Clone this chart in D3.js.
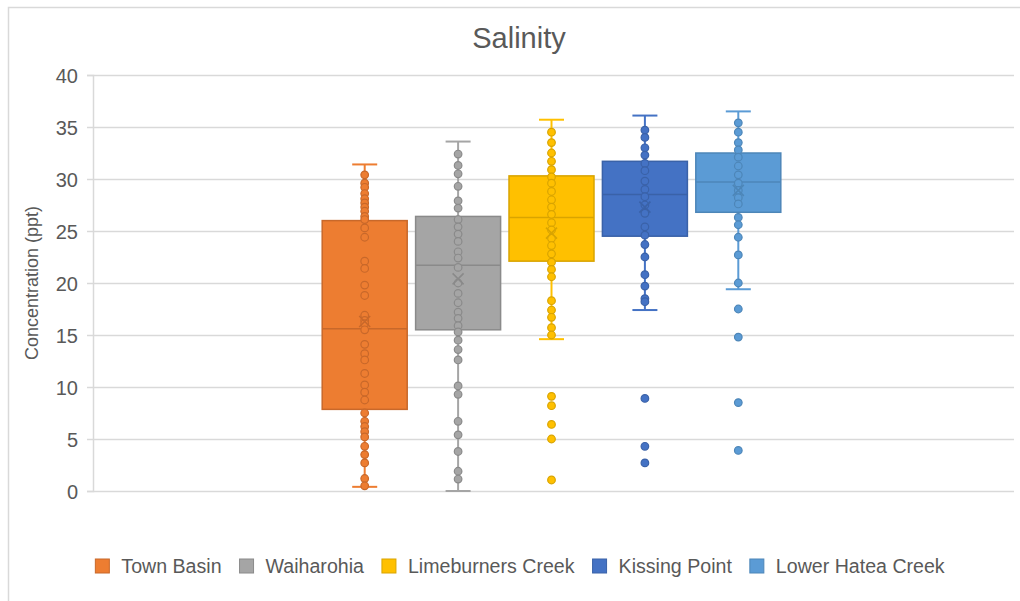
<!DOCTYPE html>
<html>
<head>
<meta charset="utf-8">
<script src="https://cdn.jsdelivr.net/npm/d3@7"></script>
<style>
  html, body { margin: 0; padding: 0; background: #fff; }
  svg { display: block; font-family: "Liberation Sans", Arial, sans-serif; }
</style>
</head>
<body>
<svg id="chart" width="1020" height="601"></svg>
<script>
// ---- data ----
const series = ["Town Basin", "Waiharohia", "Limeburners Creek", "Kissing Point", "Lower Hatea Creek"];
const fillColors = ["#ED7D31", "#A5A5A5", "#FFC000", "#4472C4", "#5B9BD5"];
const strokeColors = ["#C8682A", "#8A8A8A", "#D9A400", "#3A62A8", "#4D86B8"];
const whiskerLow = [0.4, 0.0, 14.6, 17.4, 19.4];
const q1 = [7.85, 15.5, 22.1, 24.5, 26.8];
const median = [15.6, 21.7, 26.3, 28.5, 29.7];
const q3 = [26.0, 26.4, 30.3, 31.7, 32.5];
const whiskerHigh = [31.4, 33.6, 35.7, 36.1, 36.5];
const means = [16.3, 20.4, 24.8, 27.3, 28.9];
const pointsTownBasin = [30.4, 29.6, 29.2, 28.6, 28.1, 27.7, 27.3, 26.9, 26.4, 26.1, 25.3, 24.4, 22.1, 21.4, 19.8, 18.8, 16.9, 16.4, 16.1, 15.5, 14.1, 13.2, 12.6, 11.3, 10.2, 9.5, 8.75, 7.5, 6.7, 6.2, 5.7, 5.2, 4.3, 3.5, 2.7, 1.2, 0.5];
const pointsWaiharohia = [32.4, 31.3, 30.5, 29.3, 27.9, 27.2, 26.1, 25.4, 24.7, 24.0, 23.0, 22.4, 21.5, 20.0, 19.0, 18.1, 17.2, 16.6, 15.9, 15.3, 14.5, 13.6, 12.6, 10.1, 9.3, 6.7, 5.4, 3.8, 1.9, 1.15];
const pointsLimeburners = [34.5, 33.5, 32.5, 31.7, 30.9, 30.2, 29.6, 28.8, 28.0, 27.3, 26.6, 25.8, 25.1, 24.3, 23.6, 22.8, 22.0, 21.3, 20.6, 18.3, 17.4, 16.7, 15.7, 15.0, 9.1, 8.2, 6.4, 5.0, 1.06];
const pointsKissingPoint = [34.7, 34.0, 33.0, 32.3, 31.5, 30.8, 29.8, 29.0, 28.3, 27.5, 26.7, 25.4, 24.6, 23.7, 22.5, 20.8, 19.7, 18.5, 18.2, 8.9, 4.3, 2.7];
const pointsLowerHatea = [35.4, 34.5, 33.5, 32.8, 32.1, 31.25, 30.4, 29.6, 28.9, 28.2, 27.6, 26.3, 25.6, 24.4, 22.7, 20.0, 17.5, 14.8, 8.5, 3.9];
const pointSets = [pointsTownBasin, pointsWaiharohia, pointsLimeburners, pointsKissingPoint, pointsLowerHatea];
const yTicks = [0, 5, 10, 15, 20, 25, 30, 35, 40];
const titleText = "Salinity";
const yAxisTitle = "Concentration (ppt)";

// ---- layout ----
const svg = d3.select("#chart");
const plot = { left: 93, right: 1014, top: 75, bottom: 491 };
const textColor = "#595959";
const gridColor = "#D9D9D9";

svg.append("rect").attr("width", 1020).attr("height", 601).attr("fill", "#fff");
// chart border (extends beyond the visible window on right/bottom)
svg.append("rect").attr("x", 8.5).attr("y", 7.5).attr("width", 1040).attr("height", 640)
  .attr("fill", "none").attr("stroke", gridColor).attr("stroke-width", 1.5);

const y = d3.scaleLinear().domain([0, 40]).range([plot.bottom, plot.top]);
const x = d3.scaleBand().domain(series).range([318, 785]).paddingInner(0.09).paddingOuter(0.045);

// gridlines + y axis via d3.axisLeft
const yAxis = d3.axisLeft(y).tickValues(yTicks).tickSize(6).tickFormat(d3.format("d"));
const yg = svg.append("g").attr("transform", `translate(${plot.left},0)`).call(yAxis);
yg.select(".domain").attr("stroke", gridColor).attr("stroke-width", 1.5);
yg.selectAll(".tick line").attr("stroke", gridColor).attr("stroke-width", 1.5)
  .attr("x1", -6).attr("x2", plot.right - plot.left);
yg.selectAll(".tick text").attr("fill", textColor).attr("font-size", 20)
  .attr("x", -15).attr("dy", "0.36em").style("font-family", "Liberation Sans, Arial, sans-serif");

// title
svg.append("text").attr("x", 519).attr("y", 48).attr("text-anchor", "middle")
  .attr("font-size", 29).attr("fill", textColor).text(titleText);

// y axis title
svg.append("text").attr("transform", `translate(38,${(plot.top + plot.bottom) / 2}) rotate(-90)`)
  .attr("text-anchor", "middle").attr("font-size", 18).attr("fill", textColor).text(yAxisTitle);

// boxes
const capHalf = 12.5;
series.forEach((s, i) => {
  const g = svg.append("g");
  const x0 = x(s), bw = x.bandwidth(), cx = x0 + bw / 2;
  const fc = fillColors[i], sc = strokeColors[i];
  // whiskers
  g.append("line").attr("x1", cx).attr("x2", cx).attr("y1", y(whiskerHigh[i])).attr("y2", y(q3[i]))
    .attr("stroke", fc).attr("stroke-width", 2);
  g.append("line").attr("x1", cx).attr("x2", cx).attr("y1", y(q1[i])).attr("y2", y(whiskerLow[i]))
    .attr("stroke", fc).attr("stroke-width", 2);
  [whiskerHigh[i], whiskerLow[i]].forEach(v => {
    g.append("line").attr("x1", cx - capHalf).attr("x2", cx + capHalf).attr("y1", y(v)).attr("y2", y(v))
      .attr("stroke", fc).attr("stroke-width", 2);
  });
  // box
  g.append("rect").attr("x", x0).attr("y", y(q3[i])).attr("width", bw).attr("height", y(q1[i]) - y(q3[i]))
    .attr("fill", fc).attr("stroke", sc).attr("stroke-width", 1.5);
  // median
  g.append("line").attr("x1", x0).attr("x2", x0 + bw).attr("y1", y(median[i])).attr("y2", y(median[i]))
    .attr("stroke", sc).attr("stroke-width", 1.5);
  // points
  g.selectAll("circle").data(pointSets[i]).join("circle")
    .attr("cx", cx).attr("cy", d => y(d)).attr("r", 3.8)
    .attr("fill", fc).attr("stroke", sc).attr("stroke-width", 1.2);
  // mean X
  const my = y(means[i]), m = 5.5;
  g.append("path").attr("d", `M${cx - m},${my - m}L${cx + m},${my + m}M${cx - m},${my + m}L${cx + m},${my - m}`)
    .attr("stroke", sc).attr("stroke-width", 1.6).attr("fill", "none");
});

// legend
const legend = svg.append("g");
let lx = 0;
series.forEach((s, i) => {
  const it = legend.append("g");
  it.append("rect").attr("x", 0).attr("y", -7).attr("width", 14).attr("height", 14)
    .attr("fill", fillColors[i]).attr("stroke", strokeColors[i]).attr("stroke-width", 1);
  const t = it.append("text").attr("x", 26).attr("y", 0).attr("dy", "0.36em")
    .attr("font-size", 19.6).attr("fill", textColor).text(s);
  const w = 26 + t.node().getComputedTextLength();
  it.attr("transform", `translate(${lx},566)`);
  lx += w + 18;
});
const totalW = lx - 18;
legend.attr("transform", `translate(${520 - totalW / 2},0)`);
</script>
</body>
</html>
